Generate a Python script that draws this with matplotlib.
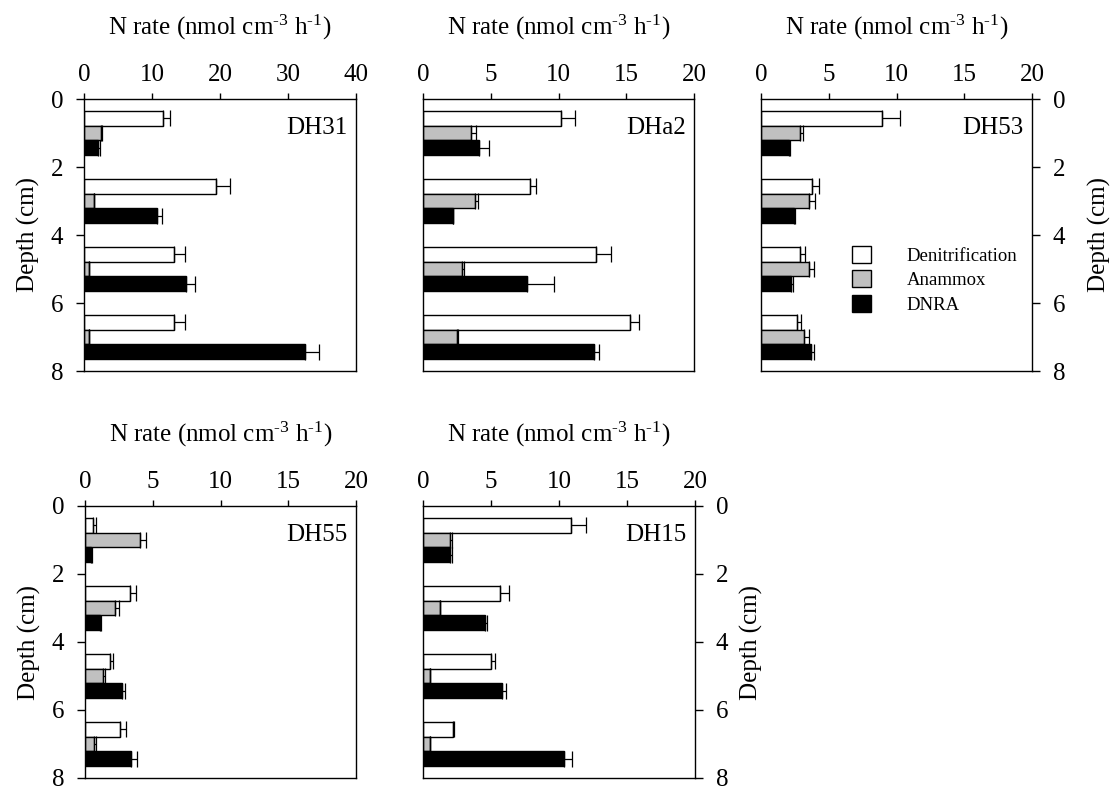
import numpy as np
import matplotlib.pyplot as plt

plt.rcParams['font.family'] = 'Liberation Serif'
plt.rcParams['mathtext.fontset'] = 'custom'
plt.rcParams['mathtext.rm'] = 'Liberation Serif'
plt.rcParams['mathtext.it'] = 'Liberation Serif:italic'
plt.rcParams['mathtext.bf'] = 'Liberation Serif:bold'
plt.rcParams['mathtext.default'] = 'regular'

# -------------------------
# Data
# -------------------------

sites = ["DH31", "DHa2", "DH53", "DH55", "DH15"]
depth = [1, 3, 5, 7]
xmax = [40, 20, 20, 20, 20]
xstep = [10, 5, 5, 5, 5]

denit_rate = [[11.6, 19.4, 13.2, 13.3],
              [10.15, 7.86, 12.8, 15.3],
              [8.96, 3.8, 2.9, 2.65],
              [0.59, 3.34, 1.82, 2.56],
              [10.87, 5.64, 5.0, 2.23]]
denit_err = [[1.1, 2.0, 1.6, 1.5],
             [1.05, 0.5, 1.1, 0.65],
             [1.3, 0.45, 0.37, 0.32],
             [0.2, 0.4, 0.27, 0.47],
             [1.1, 0.7, 0.3, 0.05]]

anammox_rate = [[2.55, 1.5, 0.7, 0.7],
                [3.54, 3.86, 2.87, 2.5],
                [2.9, 3.56, 3.56, 3.19],
                [4.08, 2.24, 1.3, 0.64],
                [1.96, 1.23, 0.49, 0.49]]
anammox_err = [[0.15, 0.0, 0.0, 0.0],
               [0.4, 0.17, 0.18, 0.05],
               [0.2, 0.4, 0.37, 0.37],
               [0.4, 0.25, 0.2, 0.15],
               [0.17, 0.05, 0.03, 0.03]]

dnra_rate = [[2.05, 10.7, 15.0, 32.5],
             [4.1, 2.2, 7.67, 12.65],
             [2.09, 2.45, 2.23, 3.68],
             [0.44, 1.13, 2.73, 3.42],
             [1.99, 4.56, 5.82, 10.36]]
dnra_err = [[0.25, 0.8, 1.3, 2.1],
            [0.8, 0.0, 2.0, 0.37],
            [0.05, 0.05, 0.12, 0.2],
            [0.05, 0.05, 0.2, 0.4],
            [0.15, 0.17, 0.27, 0.6]]

# -------------------------
# Layout (pixel boxes -> figure fractions)
# -------------------------

W, H = 1111, 790
boxes = [(84, 99, 272, 272), (423, 99, 271, 272), (761, 99, 271, 272),
         (85, 506, 271, 272), (423, 506, 272, 272)]
yside = ["left", None, "right", "left", "right"]
ypad = [8, 8, 16, 8, 8]

fig = plt.figure(figsize=(W / 100, H / 100), dpi=100)

bh = 0.43
colors = ["white", "#c0c0c0", "black"]
names = ["Denitrification", "Anammox", "DNRA"]

for i in range(5):
    x0, y0, w, h = boxes[i]
    ax = fig.add_axes([x0 / W, 1 - (y0 + h) / H, w / W, h / H])

    d = np.array(depth)
    series = [(denit_rate[i], denit_err[i]),
              (anammox_rate[i], anammox_err[i]),
              (dnra_rate[i], dnra_err[i])]
    for k, (r, e) in enumerate(series):
        ax.barh(d + (k - 1) * bh, r, height=bh, color=colors[k],
                edgecolor="black", linewidth=1, label=names[k],
                xerr=[np.zeros(len(e)), e],
                error_kw=dict(ecolor="black", elinewidth=0.9, capsize=6, capthick=0.9))

    ax.set_xlim(0, xmax[i])
    ax.set_ylim(8, 0)
    ax.set_xticks(np.arange(0, xmax[i] + 1, xstep[i]))
    ax.set_yticks([0, 2, 4, 6, 8])

    ax.xaxis.set_label_position("top")
    ax.tick_params(axis="x", top=True, labeltop=True, bottom=False, labelbottom=False,
                   direction="out", length=4.5, width=1, labelsize=18, pad=5)
    ax.set_xlabel(r"N rate (nmol cm$^{\text{-3}}$ h$^{\text{-1}}$)", fontsize=18, labelpad=21)

    if yside[i] == "left":
        ax.tick_params(axis="y", left=True, labelleft=True, right=False, labelright=False,
                       direction="out", length=6, width=1, labelsize=18, pad=9)
        ax.set_ylabel("Depth (cm)", fontsize=18, labelpad=ypad[i])
    elif yside[i] == "right":
        ax.yaxis.set_label_position("right")
        ax.tick_params(axis="y", left=False, labelleft=False, right=True, labelright=True,
                       direction="out", length=6, width=1, labelsize=18, pad=9)
        ax.set_ylabel("Depth (cm)", fontsize=18, labelpad=ypad[i])
    else:
        ax.tick_params(axis="y", left=False, labelleft=False, right=False, labelright=False)

    for s in ax.spines.values():
        s.set_linewidth(1)

    ax.text(0.97, 0.871, sites[i], transform=ax.transAxes, ha="right", va="baseline",
            fontsize=18)

    if i == 2:
        ax.legend(loc="upper left", bbox_to_anchor=(0.336, 0.46), frameon=False,
                  fontsize=13.5, handlelength=1.0, handleheight=1.0,
                  handletextpad=1.9, labelspacing=0.3, borderpad=0, borderaxespad=0)

plt.savefig("out.png", dpi=100)
